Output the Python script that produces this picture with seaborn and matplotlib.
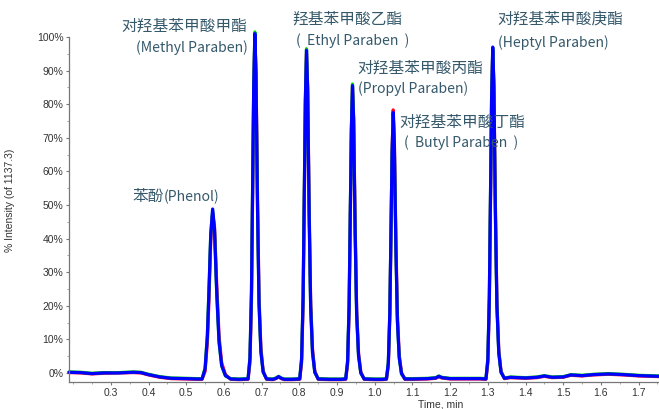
import matplotlib
matplotlib.use("Agg")
import matplotlib.pyplot as plt
from matplotlib.ticker import MultipleLocator, PercentFormatter
import pandas as pd
import seaborn as sns

# retention time, min (one grid shared by the three injections)
time = [
    0.189, 0.22, 0.25, 0.28, 0.32, 0.36, 0.38, 0.40, 0.43, 0.46, 0.50, 0.53,          # baseline
    0.542, 0.550, 0.556, 0.560, 0.565, 0.570, 0.575, 0.581, 0.587, 0.594, 0.604, 0.618,  # phenol
    0.64,
    0.664, 0.669, 0.673, 0.6755, 0.679, 0.682, 0.685, 0.689, 0.693, 0.698, 0.704, 0.713,  # methyl
    0.73, 0.738, 0.745, 0.752, 0.76, 0.78,
    0.801, 0.806, 0.810, 0.8125, 0.816, 0.819, 0.822, 0.826, 0.830, 0.835, 0.841, 0.850,  # ethyl
    0.88, 0.91,
    0.923, 0.928, 0.932, 0.9345, 0.938, 0.941, 0.944, 0.948, 0.952, 0.957, 0.963, 0.972,  # propyl
    1.00, 1.02,
    1.031, 1.036, 1.040, 1.0425, 1.046, 1.049, 1.052, 1.056, 1.060, 1.065, 1.071, 1.080,  # butyl
    1.10, 1.14, 1.162, 1.17, 1.178, 1.20, 1.25, 1.28,
    1.295, 1.300, 1.304, 1.3065, 1.310, 1.313, 1.316, 1.320, 1.324, 1.329, 1.335, 1.344,  # heptyl
    1.36, 1.40, 1.43, 1.45, 1.47, 1.50, 1.52, 1.55, 1.58, 1.62, 1.66, 1.70, 1.755,
]

# % intensity of 1137.3
blue = [
    0.2, 0.1, -0.2, 0.0, 0.0, 0.2, 0.1, -0.5, -1.2, -1.6, -1.7, -1.8,
    -1.8, 1.2, 10.9, 23.5, 41.2, 48.8, 42.7, 23.5, 9.4, 2.2, -0.8, -1.8,
    -1.9,
    -1.8, 4.4, 23.9, 49.6, 85.6, 101.0, 88.7, 49.6, 20.8, 6.4, 0.3, -1.8,
    -1.9, -1.6, -1.1, -1.6, -1.9, -1.9,
    -1.8, 4.1, 22.7, 47.1, 81.3, 96.0, 84.3, 47.1, 19.7, 6.0, 0.2, -1.8,
    -1.9, -1.9,
    -1.8, 3.4, 20.0, 41.9, 72.4, 85.5, 75.0, 41.9, 17.4, 5.2, 0.0, -1.8,
    -1.9, -1.9,
    -1.8, 2.9, 17.9, 37.9, 65.6, 77.5, 67.9, 37.9, 15.7, 4.5, -0.2, -1.8,
    -1.8, -1.7, -1.5, -1.0, -1.4, -1.7, -1.7, -1.7,
    -1.8, 4.0, 22.9, 47.6, 82.2, 97.0, 85.1, 47.6, 19.9, 6.0, 0.2, -1.6,
    -1.3, -1.5, -1.3, -0.9, -1.3, -1.2, -0.6, -0.8, -0.5, -0.3, -0.5, -0.8, -1.0,
]

red = [
    0.1, 0.0, -0.3, -0.1, 0.0, 0.1, 0.0, -0.6, -1.3, -1.7, -1.8, -1.9,
    -1.9, 0.5, 9.0, 21.0, 39.5, 47.5, 43.5, 26.0, 11.0, 3.0, -0.5, -1.9,
    -2.0,
    -1.9, 3.0, 21.0, 47.0, 84.0, 99.5, 90.0, 53.0, 23.0, 7.5, 0.6, -1.9,
    -2.0, -1.7, -1.2, -1.7, -2.0, -2.0,
    -1.9, 3.0, 20.5, 45.0, 80.0, 95.0, 85.5, 50.0, 21.5, 7.0, 0.5, -1.9,
    -2.0, -2.0,
    -1.9, 2.5, 18.5, 40.0, 71.5, 85.0, 76.0, 44.5, 19.0, 6.0, 0.3, -1.9,
    -2.0, -2.0,
    -1.9, 2.0, 16.5, 36.5, 65.5, 78.3, 69.5, 40.5, 17.5, 5.3, 0.1, -1.9,
    -1.9, -1.8, -1.6, -1.1, -1.5, -1.8, -1.8, -1.8,
    -1.9, 3.0, 21.0, 45.5, 81.0, 96.0, 86.5, 50.5, 21.5, 6.8, 0.5, -1.7,
    -1.4, -1.6, -1.4, -1.0, -1.4, -1.3, -0.7, -0.9, -0.6, -0.4, -0.6, -0.9, -1.1,
]

green = [
    0.3, 0.2, -0.1, 0.1, 0.1, 0.3, 0.2, -0.4, -1.1, -1.5, -1.6, -1.7,
    -1.7, 1.5, 11.5, 24.0, 41.5, 48.3, 42.0, 23.0, 9.0, 2.0, -0.9, -1.7,
    -1.8,
    -1.7, 4.8, 24.5, 50.0, 86.0, 101.5, 88.0, 49.0, 20.5, 6.2, 0.2, -1.7,
    -1.8, -1.5, -1.0, -1.5, -1.8, -1.8,
    -1.7, 4.5, 23.0, 47.5, 81.8, 96.5, 84.0, 46.8, 19.5, 5.9, 0.1, -1.7,
    -1.8, -1.8,
    -1.7, 3.7, 20.5, 42.3, 72.8, 86.0, 74.8, 41.5, 17.2, 5.1, -0.1, -1.7,
    -1.8, -1.8,
    -1.7, 3.1, 18.2, 38.0, 65.0, 76.8, 67.5, 37.5, 15.5, 4.4, -0.3, -1.7,
    -1.7, -1.6, -1.4, -0.9, -1.3, -1.6, -1.6, -1.6,
    -1.7, 4.2, 23.2, 47.8, 82.0, 96.5, 84.8, 47.2, 19.7, 5.9, 0.1, -1.5,
    -1.2, -1.4, -1.2, -0.8, -1.2, -1.1, -0.5, -0.7, -0.4, -0.2, -0.4, -0.7, -0.9,
]

traces = {"red": red, "green": green, "blue": blue}
colors = {"red": "#ff0033", "green": "#00d000", "blue": "#0000ff"}

# chinese names of the peaks: (text, x, y, alignment)
cn_labels = [
    ("苯酚", 0.4405, 52.4, "right"),
    ("对羟基苯甲酸甲酯", 0.663, 103.3, "right"),
    ("羟基苯甲酸乙酯", 0.9285, 105.4, "center"),
    ("对羟基苯甲酸丙酯", 0.955, 90.8, "left"),
    ("对羟基苯甲酸丁酯", 1.066, 74.7, "left"),
    ("对羟基苯甲酸庚酯", 1.326, 105.1, "left"),
]
# english names
en_labels = [
    ("(Phenol)", 0.4405, 52.4, "left"),
    ("(Methyl Paraben)", 0.663, 96.7, "right"),
    ("(  Ethyl Paraben  )", 0.942, 98.8, "center"),
    ("(Propyl Paraben)", 0.955, 84.5, "left"),
    ("(  Butyl Paraben  )", 1.078, 68.5, "left"),
    ("(Heptyl Paraben)", 1.326, 98.2, "left"),
]

df = pd.concat(
    [pd.DataFrame({"time": time, "intensity": v, "trace": k}) for k, v in traces.items()],
    ignore_index=True,
)

sns.set_style("ticks")
plt.rcParams["font.family"] = ["Liberation Sans", "DejaVu Sans"]

fig = plt.figure(figsize=(6.59, 4.09), dpi=100)
ax = fig.add_axes([69 / 659, 27 / 409, 590 / 659, 345 / 409])

sns.lineplot(data=df, x="time", y="intensity", hue="trace", palette=colors,
             estimator=None, sort=False, linewidth=2.3, legend=False, ax=ax)
for line in ax.lines:
    line.set_clip_on(False)
    line.set_solid_joinstyle("round")

ax.set_xlim(0.189, 1.754)
ax.set_ylim(-2.7, 100)
ax.xaxis.set_minor_locator(MultipleLocator(0.05))
ax.yaxis.set_major_locator(MultipleLocator(10))
ax.yaxis.set_minor_locator(MultipleLocator(5))
ax.yaxis.set_major_formatter(PercentFormatter(decimals=0))
ax.set_xticks([0.3, 0.4, 0.5, 0.6, 0.7, 0.8, 0.9, 1.0, 1.1, 1.2, 1.3, 1.4, 1.5, 1.6, 1.7])
ax.set_xticklabels(["0.3", "0.4", "0.5", "0.6", "0.7", "0.8", "0.9", "1.0", "1.1",
                    "1.2", "1.3", "1.4", "1.5", "1.6", "1.7"])

ax.tick_params(which="major", length=2.5, width=0.8, color="#777777",
               labelsize=7.5, labelcolor="#333333", pad=1.5)
ax.tick_params(which="minor", length=1.5, width=0.6, color="#999999")
for s in ["left", "bottom"]:
    ax.spines[s].set_color("#777777")
    ax.spines[s].set_linewidth(0.9)
sns.despine(ax=ax)

ax.set_xlabel("Time, min", fontsize=7.5, color="#333333")
ax.xaxis.set_label_coords(0.6305, -0.052)
ax.set_ylabel("% Intensity (of 1137.3)", fontsize=7.5, color="#333333")
ax.yaxis.set_label_coords(-0.092, 0.528)

label_font = ["Noto Sans CJK SC", "DejaVu Sans"]
for txt, x, y, ha in cn_labels:
    ax.text(x, y, txt, ha=ha, va="center", fontsize=11.3, color="#35596b", family=label_font)
for txt, x, y, ha in en_labels:
    ax.text(x, y, txt, ha=ha, va="center", fontsize=10.1, color="#35596b", family=label_font)

fig.savefig("out.png", dpi=100)
